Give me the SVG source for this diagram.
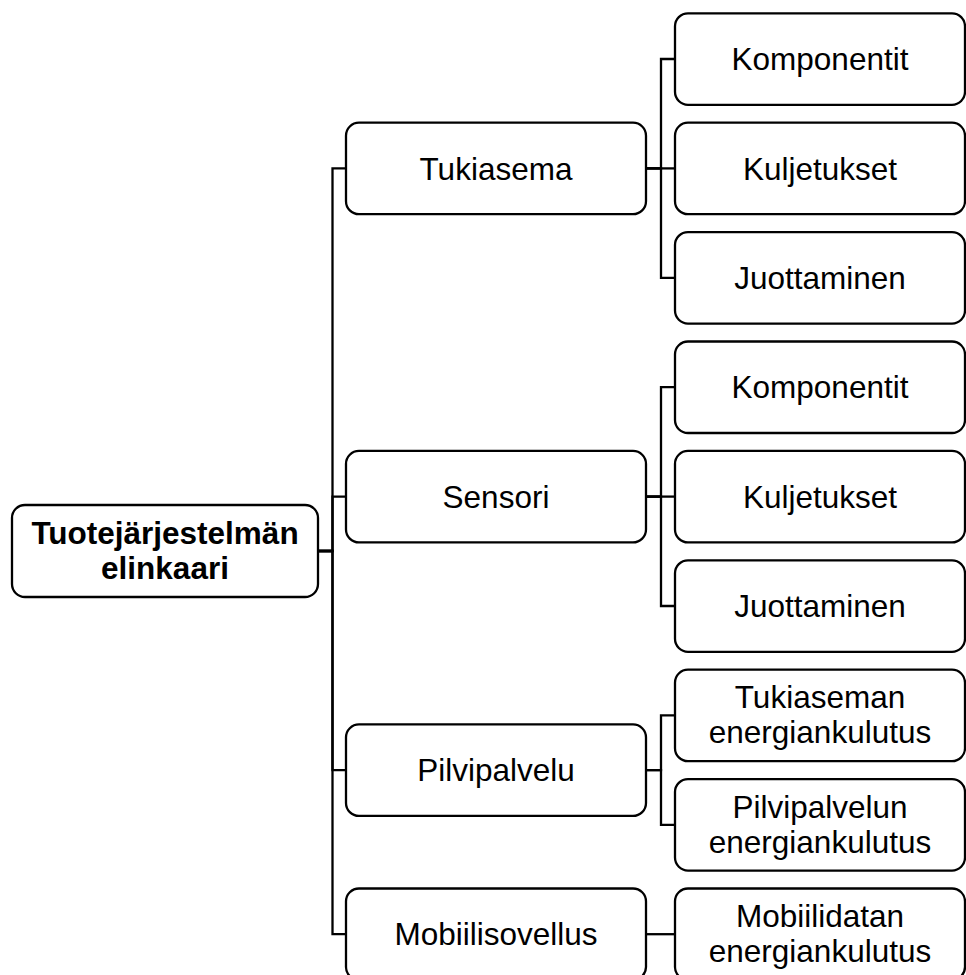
<svg xmlns="http://www.w3.org/2000/svg" width="966" height="975" viewBox="0 0 966 975">
<style>
.box{fill:#fff;stroke:#000;stroke-width:2.3}
.edge{fill:none;stroke:#000;stroke-width:2.3;stroke-linejoin:miter}
text{font-family:"Liberation Sans",Arial,sans-serif;font-size:31.5px;fill:#000;text-anchor:middle}
.b{font-weight:bold}
</style>
<rect width="966" height="975" fill="#fff"/>
<g id="connectors">
<path class="edge" d="M318,551 H332.5 V168.4 H346"/>
<path class="edge" d="M318,551 H332.5 V496.6 H346"/>
<path class="edge" d="M318,551 H332.5 V770.1 H346"/>
<path class="edge" d="M318,551 H332.5 V934.2 H346"/>
<path class="edge" d="M646,168.4 H661 V59 H675"/>
<path class="edge" d="M646,168.4 H675"/>
<path class="edge" d="M646,168.4 H661 V277.8 H675"/>
<path class="edge" d="M646,496.6 H661 V387.2 H675"/>
<path class="edge" d="M646,496.6 H675"/>
<path class="edge" d="M646,496.6 H661 V606 H675"/>
<path class="edge" d="M646,770.1 H661 V715.4 H675"/>
<path class="edge" d="M646,770.1 H661 V824.8 H675"/>
<path class="edge" d="M646,934.2 H675"/>
</g>
<g id="root">
<rect class="box" x="12" y="505" width="306" height="92" rx="13"/>
<text class="b" x="165" y="544">Tuotejärjestelmän</text>
<text class="b" x="165" y="579">elinkaari</text>
</g>
<g id="tukiasema">
<rect class="box" x="346" y="122.7" width="300" height="91.5" rx="13"/>
<text x="496" y="179.5">Tukiasema</text>
</g>
<g id="sensori">
<rect class="box" x="346" y="450.9" width="300" height="91.5" rx="13"/>
<text x="496" y="507.7">Sensori</text>
</g>
<g id="pilvipalvelu">
<rect class="box" x="346" y="724.4" width="300" height="91.5" rx="13"/>
<text x="496" y="781.2">Pilvipalvelu</text>
</g>
<g id="mobiilisovellus">
<rect class="box" x="346" y="888.5" width="300" height="91.5" rx="13"/>
<text x="496" y="945.3">Mobiilisovellus</text>
</g>
<g id="t-komponentit">
<rect class="box" x="675" y="13.3" width="290" height="91.5" rx="13"/>
<text x="820" y="70.1">Komponentit</text>
</g>
<g id="t-kuljetukset">
<rect class="box" x="675" y="122.7" width="290" height="91.5" rx="13"/>
<text x="820" y="179.5">Kuljetukset</text>
</g>
<g id="t-juottaminen">
<rect class="box" x="675" y="232.1" width="290" height="91.5" rx="13"/>
<text x="820" y="288.9">Juottaminen</text>
</g>
<g id="s-komponentit">
<rect class="box" x="675" y="341.5" width="290" height="91.5" rx="13"/>
<text x="820" y="398.3">Komponentit</text>
</g>
<g id="s-kuljetukset">
<rect class="box" x="675" y="450.9" width="290" height="91.5" rx="13"/>
<text x="820" y="507.7">Kuljetukset</text>
</g>
<g id="s-juottaminen">
<rect class="box" x="675" y="560.3" width="290" height="91.5" rx="13"/>
<text x="820" y="617.1">Juottaminen</text>
</g>
<g id="tukiaseman-energiankulutus">
<rect class="box" x="675" y="669.7" width="290" height="91.5" rx="13"/>
<text x="820" y="708.4">Tukiaseman</text>
<text x="820" y="743.4">energiankulutus</text>
</g>
<g id="pilvipalvelun-energiankulutus">
<rect class="box" x="675" y="779.1" width="290" height="91.5" rx="13"/>
<text x="820" y="817.8">Pilvipalvelun</text>
<text x="820" y="852.8">energiankulutus</text>
</g>
<g id="mobiilidatan-energiankulutus">
<rect class="box" x="675" y="888.5" width="290" height="91.5" rx="13"/>
<text x="820" y="927.2">Mobiilidatan</text>
<text x="820" y="962.2">energiankulutus</text>
</g>
</svg>
